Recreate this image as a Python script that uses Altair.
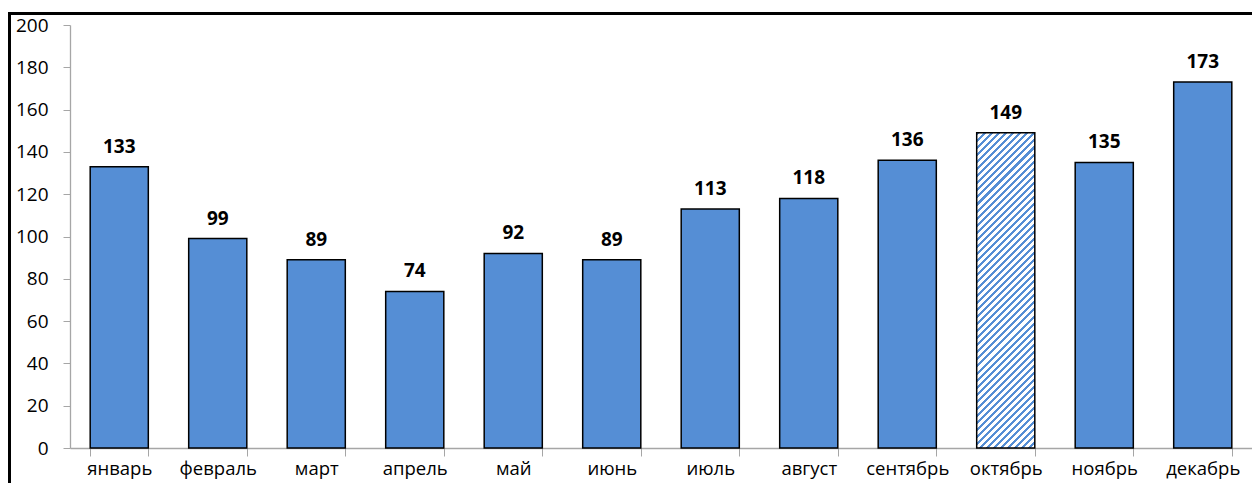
import altair as alt
import pandas as pd

months = ["январь", "февраль", "март", "апрель", "май", "июнь",
          "июль", "август", "сентябрь", "октябрь", "ноябрь", "декабрь"]
values = [133, 99, 89, 74, 92, 89, 113, 118, 136, 149, 135, 173]
hatched_month = "октябрь"

df = pd.DataFrame({"month": months, "value": values})

W, H = 1182, 423
PAD_INNER = 0.41
BLUE = "#558ED5"
FONT = "Open Sans"

# diagonal hatch approximated by a hard-stop linear gradient
step = W / len(months)
bar_w = step * (1 - PAD_INNER)
bar_h = values[months.index(hatched_month)] / 200 * H
r = bar_h / bar_w
a = (1 + r) / (1 + r * r)
N = 53
frac = 0.43
stops = []
for k in range(N):
    s0, s1, s2 = k / N, (k + frac) / N, (k + 1) / N
    stops += [{"offset": s0, "color": BLUE}, {"offset": s1, "color": BLUE},
              {"offset": s1, "color": "white"}, {"offset": s2, "color": "white"}]
hatch = {"gradient": "linear", "x1": 0, "y1": 0, "x2": a, "y2": a * r, "stops": stops}

x_enc = alt.X("month:N", sort=months, title=None,
              scale=alt.Scale(paddingInner=PAD_INNER, paddingOuter=PAD_INNER / 2),
              axis=alt.Axis(labelAngle=0, tickBand="extent", tickSize=8, labelPadding=3,
                            labelFontSize=18.5, labelFont=FONT, labelColor="black",
                            domainColor="#a6a6a6", tickColor="#a6a6a6", domainWidth=1.3))
y_enc = alt.Y("value:Q", title=None,
              scale=alt.Scale(domain=[0, 200], nice=False),
              axis=alt.Axis(values=list(range(0, 201, 20)), grid=False, tickSize=7,
                            labelPadding=15, labelFontSize=19, labelFont=FONT,
                            labelColor="black", domainColor="#a6a6a6",
                            tickColor="#a6a6a6", domainWidth=1.3))

base = alt.Chart(df)

bars = base.transform_filter(alt.datum.month != hatched_month).mark_bar(
    fill=BLUE, stroke="black", strokeWidth=1.5).encode(x=x_enc, y=y_enc)

hbar = base.transform_filter(alt.datum.month == hatched_month).mark_bar(
    fill=hatch, stroke="black", strokeWidth=1.5).encode(x=x_enc, y=y_enc)

labels = base.mark_text(dy=-10, baseline="bottom", fontWeight="bold", fontSize=19,
                        font=FONT, color="black").encode(
    x=alt.X("month:N", sort=months), y="value:Q", text="value:Q")

frame_left = alt.Chart(pd.DataFrame({"k": [0]})).mark_rect(
    fill="black", strokeWidth=0).encode(
    x=alt.value(-62), x2=alt.value(-59), y=alt.value(-13), y2=alt.value(H + 60))
frame_top = alt.Chart(pd.DataFrame({"k": [0]})).mark_rect(
    fill="black", strokeWidth=0).encode(
    x=alt.value(-62), x2=alt.value(W + 20), y=alt.value(-13), y2=alt.value(-10))

chart = alt.layer(bars, hbar, labels, frame_left, frame_top).properties(
    width=W, height=H,
    background="white",
    view=alt.ViewBackground(strokeOpacity=0, strokeWidth=0),
    autosize=alt.AutoSizeParams(type="none"),
    padding={"left": 70, "top": 25, "right": 0, "bottom": 35},
).configure_view(strokeWidth=0, strokeOpacity=0)

chart.save("out.html", embed_options={"renderer": "svg", "actions": False})
